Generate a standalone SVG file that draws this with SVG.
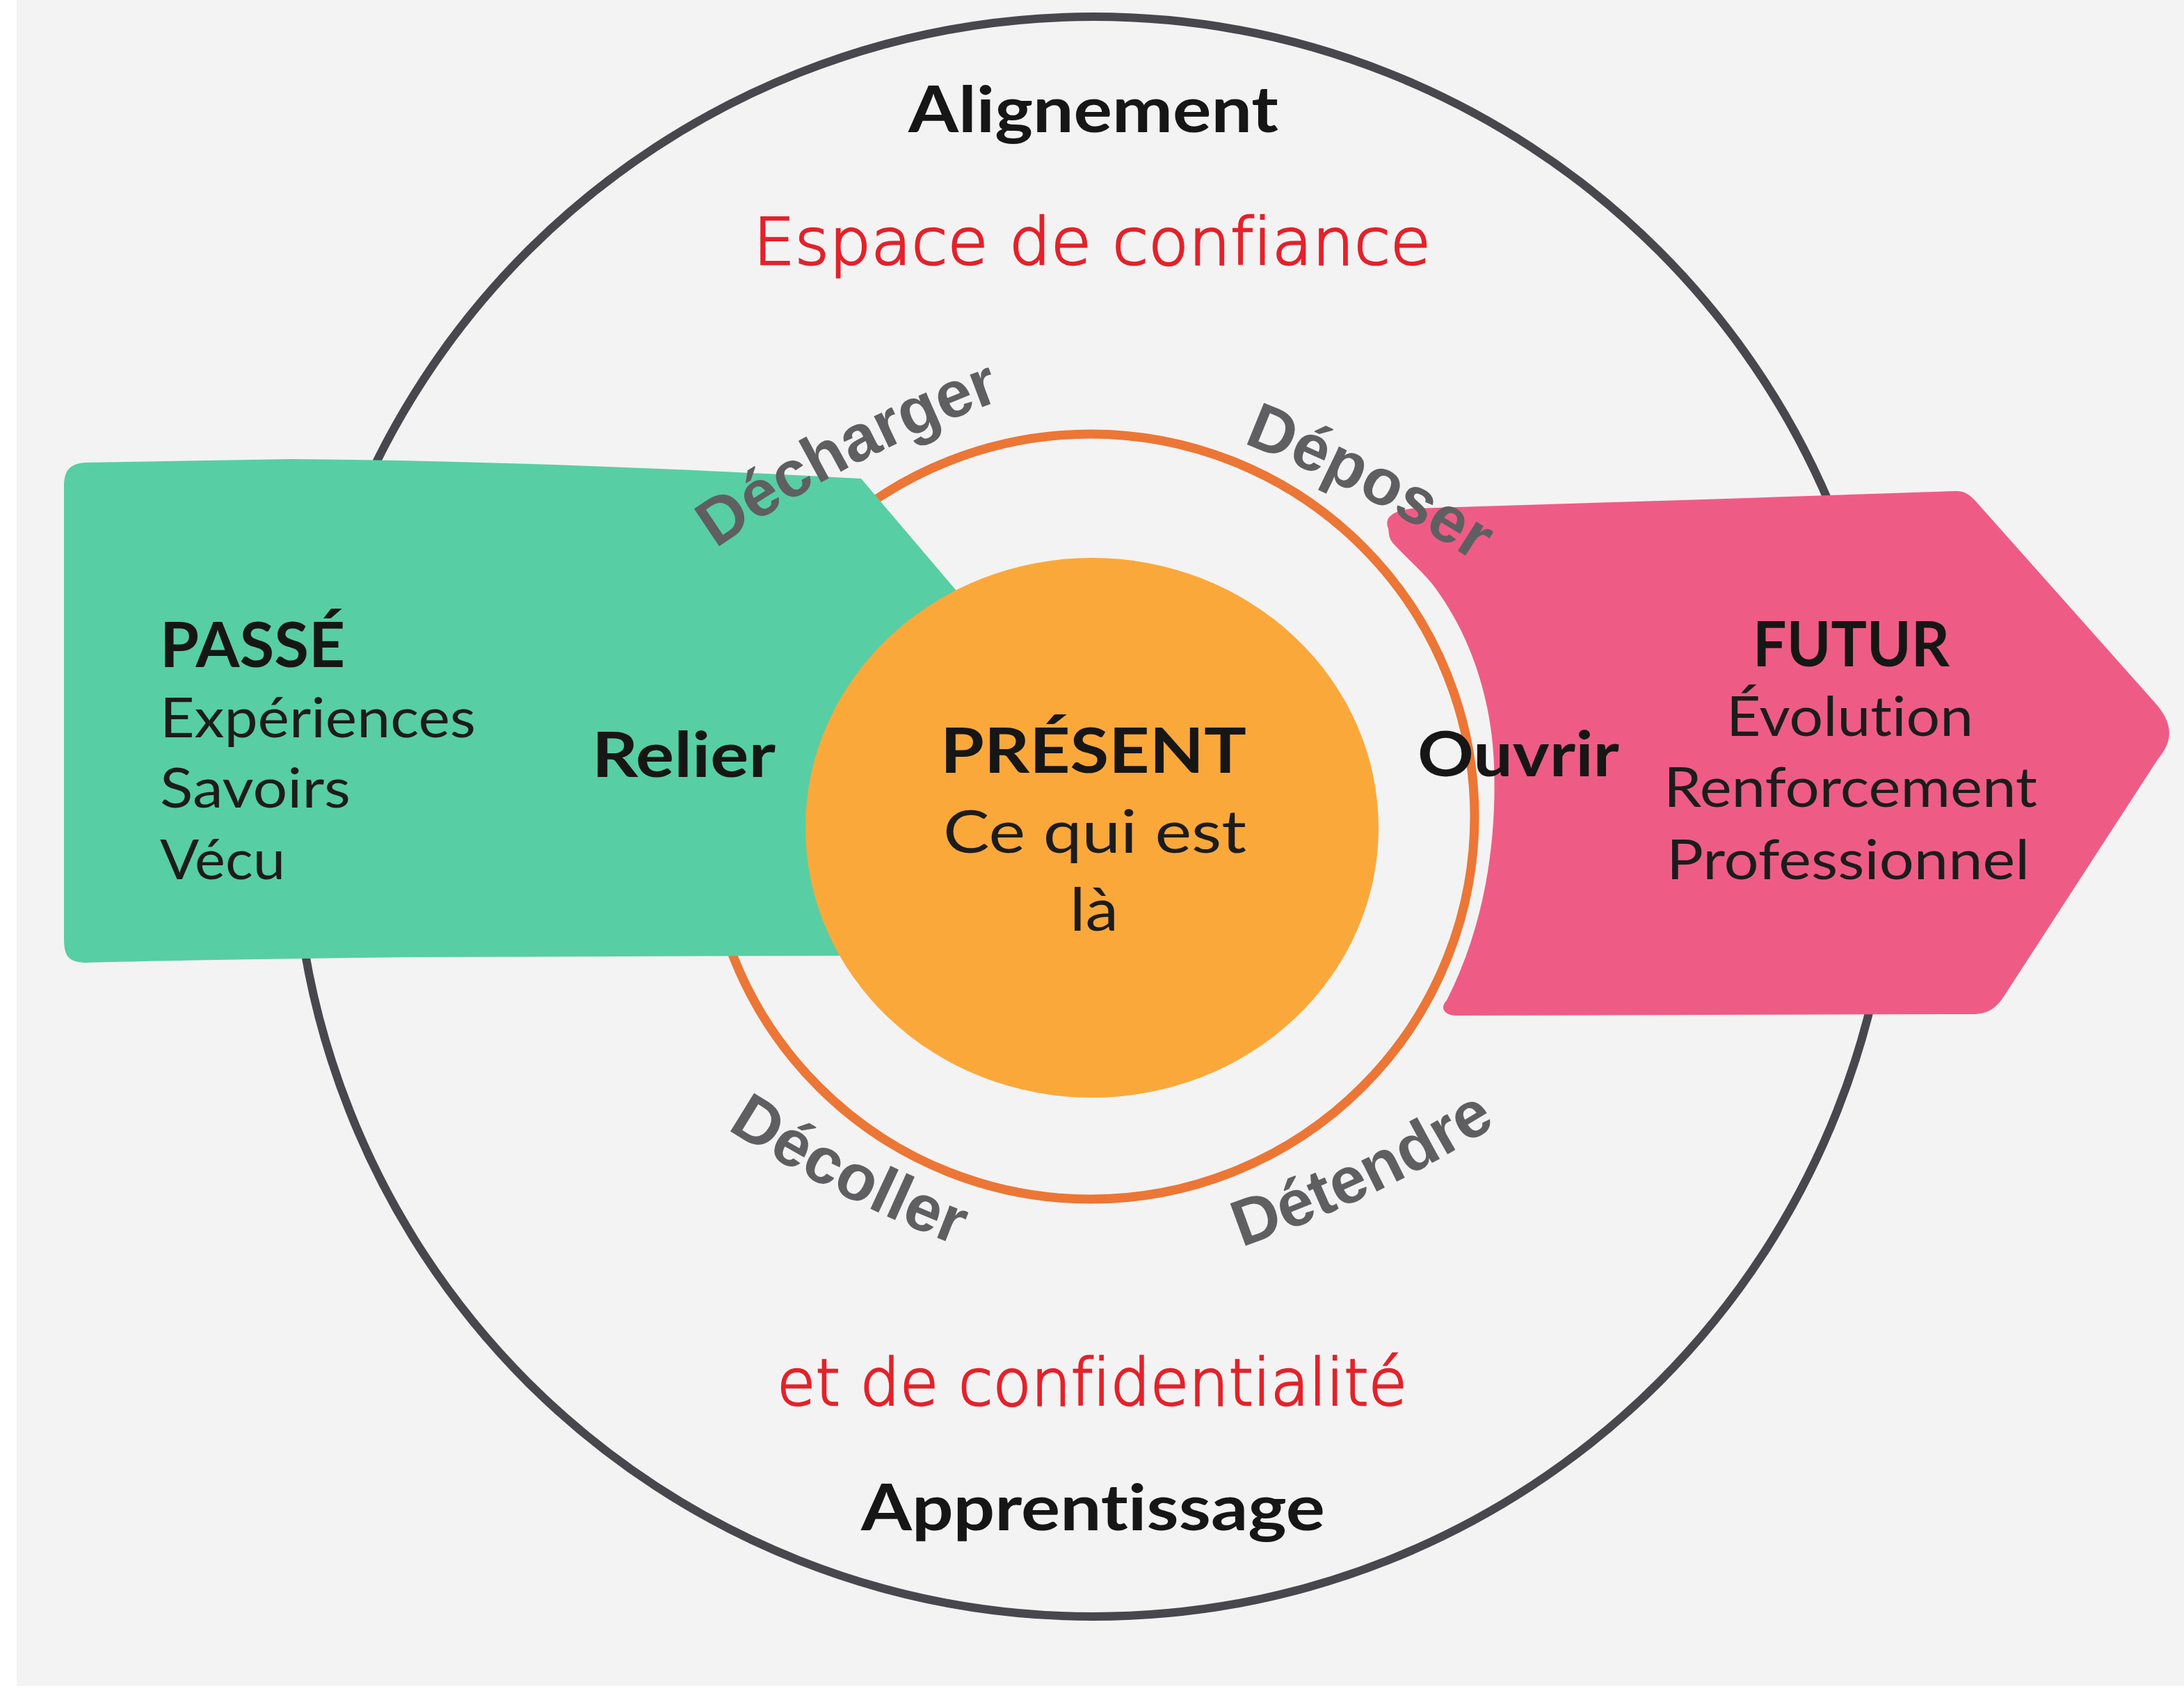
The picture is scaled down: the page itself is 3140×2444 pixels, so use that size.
<svg xmlns="http://www.w3.org/2000/svg" width="3140" height="2444" viewBox="0 0 3140 2444">
<style>
text{font-variant-ligatures:none;font-feature-settings:"liga" 0,"clig" 0}
.h{font-family:Lato,"Open Sans","Liberation Sans",sans-serif;font-weight:bold;font-size:90px;fill:#161616}
.r{font-family:Lato,"Open Sans","Liberation Sans",sans-serif;font-weight:normal;font-size:80px;fill:#1c1c1c}
.red{font-family:"DejaVu Sans","Liberation Sans",sans-serif;font-weight:200;font-size:92px;fill:#e3222b;stroke:#e3222b;stroke-width:2.5px}
.arc{font-family:"Liberation Sans",Arial,sans-serif;font-weight:bold;font-size:94px;fill:#5f5f61}
</style>
<defs>
<path id="p-decharger" d="M 1029 789 A 1780 1780 0 0 1 1494 556"/>
<path id="p-deposer" d="M 1787 637 A 1780 1780 0 0 1 2167 839"/>
<path id="p-decoller" d="M 1045 1623 A 1780 1780 0 0 0 1432 1811"/>
<path id="p-detendre" d="M 1785 1793 A 1780 1780 0 0 0 2197 1588"/>
</defs>
<rect x="0" y="0" width="3140" height="2444" fill="#ffffff"/>
<rect x="24" y="0" width="3116" height="2424" fill="#f3f3f3"/>

<g id="outer-circle">
<circle cx="1572" cy="1174" r="1150" fill="none" stroke="#47474d" stroke-width="12"/>
</g>

<g id="ring">
<ellipse cx="1568" cy="1174" rx="552" ry="550" fill="none" stroke="#ec7635" stroke-width="13"/>
</g>

<g id="passe">
<path d="M 92 700 C 92 676 100 666 125 665 L 420 660 C 700 662 1000 675 1238 688 L 1374 848 L 1470 1010 L 1470 1372 L 1200 1374 L 600 1376 C 400 1378 200 1382 125 1384 C 100 1384 92 1376 92 1350 Z" fill="#58cea4"/>
<text class="h" x="230" y="959" textLength="266" lengthAdjust="spacingAndGlyphs">PASSÉ</text>
<text class="r" x="230" y="1060" textLength="454" lengthAdjust="spacingAndGlyphs">Expériences</text>
<text class="r" x="230" y="1161" textLength="274" lengthAdjust="spacingAndGlyphs">Savoirs</text>
<text class="r" x="230" y="1264" textLength="180" lengthAdjust="spacingAndGlyphs">Vécu</text>
<text class="h" x="851" y="1117" textLength="264" lengthAdjust="spacingAndGlyphs">Relier</text>
</g>

<g id="futur">
<path d="M 1996 760 C 1990 745 2000 735 2030 731 L 2420 719 L 2812 706 C 2826 706 2832 712 2840 720 L 3098 1010 C 3125 1040 3125 1065 3102 1092 L 2880 1434 C 2868 1452 2855 1458 2835 1458 L 2095 1460 C 2075 1460 2070 1448 2080 1438 C 2135 1330 2152 1210 2148 1100 C 2144 990 2106 900 2058 838 C 2038 815 2015 795 2002 780 C 1996 772 1997 766 1996 760 Z" fill="#ee5c85"/>
<text class="h" x="2520" y="958" textLength="283" lengthAdjust="spacingAndGlyphs">FUTUR</text>
<text class="r" x="2482" y="1058" textLength="355" lengthAdjust="spacingAndGlyphs">Évolution</text>
<text class="r" x="2392" y="1160" textLength="537" lengthAdjust="spacingAndGlyphs">Renforcement</text>
<text class="r" x="2396" y="1264" textLength="522" lengthAdjust="spacingAndGlyphs">Professionnel</text>
</g>

<g id="present">
<ellipse cx="1570" cy="1190" rx="412" ry="388" fill="#fba83b"/>
<text class="h" x="1352" y="1111" textLength="440" lengthAdjust="spacingAndGlyphs">PRÉSENT</text>
<text class="r" x="1356" y="1226" textLength="436" lengthAdjust="spacingAndGlyphs" style="font-size:86px">Ce qui est</text>
<text class="r" x="1538" y="1338" textLength="70" lengthAdjust="spacingAndGlyphs" style="font-size:86px">là</text>
</g>

<g id="ouvrir">
<text class="h" x="2038" y="1116" textLength="290" lengthAdjust="spacingAndGlyphs">Ouvrir</text>
</g>

<g id="arc-labels">
<text class="arc"><textPath href="#p-decharger">Décharger</textPath></text>
<text class="arc"><textPath href="#p-deposer">Déposer</textPath></text>
<text class="arc"><textPath href="#p-decoller">Décoller</textPath></text>
<text class="arc"><textPath href="#p-detendre">Détendre</textPath></text>
</g>

<g id="titles">
<text class="h" x="1306" y="190" textLength="532" lengthAdjust="spacingAndGlyphs" style="font-size:92px">Alignement</text>
<text class="red" x="1083" y="380" textLength="974" lengthAdjust="spacingAndGlyphs">Espace de confiance</text>
<text class="red" x="1117" y="2020" textLength="906" lengthAdjust="spacingAndGlyphs">et de confidentialité</text>
<text class="h" x="1238" y="2200" textLength="667" lengthAdjust="spacingAndGlyphs" style="font-size:92px">Apprentissage</text>
</g>
</svg>
